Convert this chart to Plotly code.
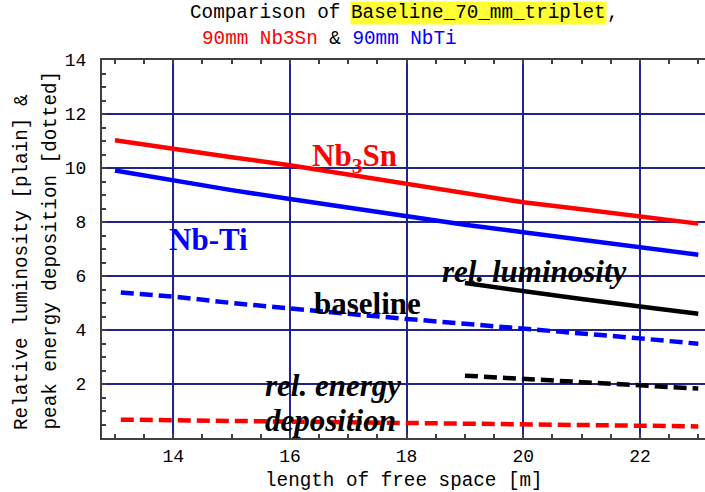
import plotly.graph_objects as go

# ---- data ----
x_lum = [13, 14, 15, 16, 17, 18, 19, 20, 21, 22, 23]
nb3sn_lum = [11.03, 10.70, 10.40, 10.10, 9.75, 9.40, 9.05, 8.73, 8.47, 8.21, 7.94]
nbti_lum = [9.91, 9.53, 9.18, 8.85, 8.52, 8.21, 7.90, 7.62, 7.35, 7.10, 6.79]

x_dep = [13.1, 14, 15, 16, 17, 18, 19, 20, 21, 22, 23]
nbti_dep = [5.39, 5.24, 5.00, 4.78, 4.60, 4.41, 4.24, 4.07, 3.88, 3.69, 3.49]
nb3sn_dep = [0.68, 0.66, 0.60, 0.58, 0.56, 0.55, 0.52, 0.49, 0.48, 0.47, 0.43]

x_base = [19, 20, 21, 22, 23]
base_lum = [5.74, 5.43, 5.15, 4.87, 4.60]
base_dep = [2.31, 2.18, 2.07, 1.95, 1.83]

x_ticks = [14, 16, 18, 20, 22]
y_ticks = [2, 4, 6, 8, 10, 12, 14]

RED = "#ff0000"
BLUE = "#0000ff"
BLACK = "#000000"
GRID = "#23238c"
FRAME = "#404040"
MONO = "Liberation Mono, Courier New, monospace"
SERIF = "Liberation Serif, Times New Roman, serif"

W, H = 705, 492
ML, MR, MT, MB = 102, 0, 60, 54
PW = W - ML - MR
PH = H - MT - MB


def px(xp):
    return (xp - ML) / PW


def py(yp):
    return (H - MB - yp) / PH


fig = go.Figure()
LW = 4.5
DASH = "13px,6px"
fig.add_trace(go.Scatter(x=x_lum, y=nb3sn_lum, mode="lines", line=dict(color=RED, width=LW)))
fig.add_trace(go.Scatter(x=x_lum, y=nbti_lum, mode="lines", line=dict(color=BLUE, width=LW)))
fig.add_trace(go.Scatter(x=x_dep, y=nbti_dep, mode="lines", line=dict(color=BLUE, width=LW, dash=DASH)))
fig.add_trace(go.Scatter(x=x_dep, y=nb3sn_dep, mode="lines", line=dict(color=RED, width=LW, dash=DASH)))
fig.add_trace(go.Scatter(x=x_base, y=base_lum, mode="lines", line=dict(color=BLACK, width=LW)))
fig.add_trace(go.Scatter(x=x_base, y=base_dep, mode="lines", line=dict(color=BLACK, width=LW, dash=DASH)))

# black grid line at x = 14 (as in the reference)
fig.add_shape(type="line", xref="x", yref="paper", x0=x_ticks[0], x1=x_ticks[0], y0=0, y1=1,
              line=dict(color="#202020", width=1.5), layer="below")

anns = []
# title
cw = 0.6 * 19.3
t1x = 188.3
anns.append(dict(text="Comparison of ", x=px(t1x), y=py(13), xanchor="left", yanchor="middle",
                 font=dict(family=MONO, size=19.3, color=BLACK)))
anns.append(dict(text="Baseline_70_mm_triplet", x=px(t1x + 14 * cw), y=py(13), xanchor="left", yanchor="middle",
                 bgcolor="#ffff33", borderpad=0,
                 font=dict(family=MONO, size=19.3, color=BLACK)))
anns.append(dict(text=",", x=px(t1x + 36 * cw), y=py(13), xanchor="left", yanchor="middle",
                 font=dict(family=MONO, size=19.3, color=BLACK)))
anns.append(dict(text='<span style="color:#ff0000">90mm Nb3Sn</span> &amp; <span style="color:#0000ff">90mm NbTi</span>',
                 x=px(200), y=py(39), xanchor="left", yanchor="middle",
                 font=dict(family=MONO, size=19.3, color=BLACK)))
# y axis title (two lines)
anns.append(dict(text="Relative luminosity [plain] &amp;", textangle=-90, x=px(22), y=py(432),
                 xanchor="center", yanchor="bottom", font=dict(family=MONO, size=19.3, color=BLACK)))
anns.append(dict(text="peak energy deposition [dotted]", textangle=-90, x=px(50), y=py(432),
                 xanchor="center", yanchor="bottom", font=dict(family=MONO, size=19.3, color=BLACK)))
# x axis title
anns.append(dict(text="length of free space [m]", x=px(404), y=py(481), xanchor="center", yanchor="middle",
                 font=dict(family=MONO, size=19.3, color=BLACK)))

# in-plot labels (data coordinates)
def dx(xp):
    return 14 + (xp - 173.3) / 58.33


def dy(yp):
    return (H - MB - yp) / 27.0


FS = 31
anns.append(dict(text="<b>Nb<sub>3</sub>Sn</b>", x=dx(354.5), y=dy(158), xref="x", yref="y",
                 font=dict(family=SERIF, size=FS, color=RED)))
anns.append(dict(text="<b>Nb-Ti</b>", x=dx(208), y=dy(239), xref="x", yref="y",
                 font=dict(family=SERIF, size=FS, color=BLUE)))
anns.append(dict(text="<b><i>rel. luminosity</i></b>", x=dx(534), y=dy(271), xref="x", yref="y",
                 font=dict(family=SERIF, size=FS, color=BLACK)))
anns.append(dict(text="<b>baseline</b>", x=dx(367), y=dy(303), xref="x", yref="y",
                 font=dict(family=SERIF, size=FS, color=BLACK)))
anns.append(dict(text="<b><i>rel. energy</i></b>", x=dx(332.5), y=dy(385), xref="x", yref="y",
                 font=dict(family=SERIF, size=FS, color=BLACK)))
anns.append(dict(text="<b><i>deposition</i></b>", x=dx(330), y=dy(420), xref="x", yref="y",
                 font=dict(family=SERIF, size=FS, color=BLACK)))

for a in anns:
    a.setdefault("xref", "paper")
    a.setdefault("yref", "paper")
    a["showarrow"] = False

x0 = 14 - (173.3 - ML) / 58.33
x1 = x0 + PW / 58.33

fig.update_layout(
    width=W, height=H,
    margin=dict(l=ML, r=MR, t=MT, b=MB, pad=0),
    paper_bgcolor="white", plot_bgcolor="white",
    showlegend=False,
    annotations=anns,
    font=dict(family=MONO, size=18, color=BLACK),
    xaxis=dict(range=[x0, x1], tickvals=x_ticks, ticktext=[str(v) for v in x_ticks],
               showgrid=True, gridcolor=GRID, gridwidth=1.5,
               showline=True, linecolor=FRAME, linewidth=2, mirror="ticks",
               ticks="inside", ticklen=4, tickcolor=FRAME, tickwidth=1.5,
               minor=dict(dtick=0.5, ticks="inside", ticklen=4, tickcolor=FRAME, tickwidth=1.5, showgrid=False),
               tickfont=dict(family=MONO, size=18, color=BLACK), zeroline=False,
               ticklabelstandoff=0),
    yaxis=dict(range=[0, 14], tickvals=y_ticks, ticktext=[str(v) for v in y_ticks],
               showgrid=True, gridcolor=GRID, gridwidth=1.5,
               showline=True, linecolor=FRAME, linewidth=2,
               ticks="inside", ticklen=4, tickcolor=FRAME, tickwidth=1.5,
               minor=dict(dtick=0.5, ticks="inside", ticklen=4, tickcolor=FRAME, tickwidth=1.5, showgrid=False),
               tickfont=dict(family=MONO, size=18, color=BLACK), zeroline=False,
               ticklabelstandoff=10),
)

fig.write_html("out.html")
